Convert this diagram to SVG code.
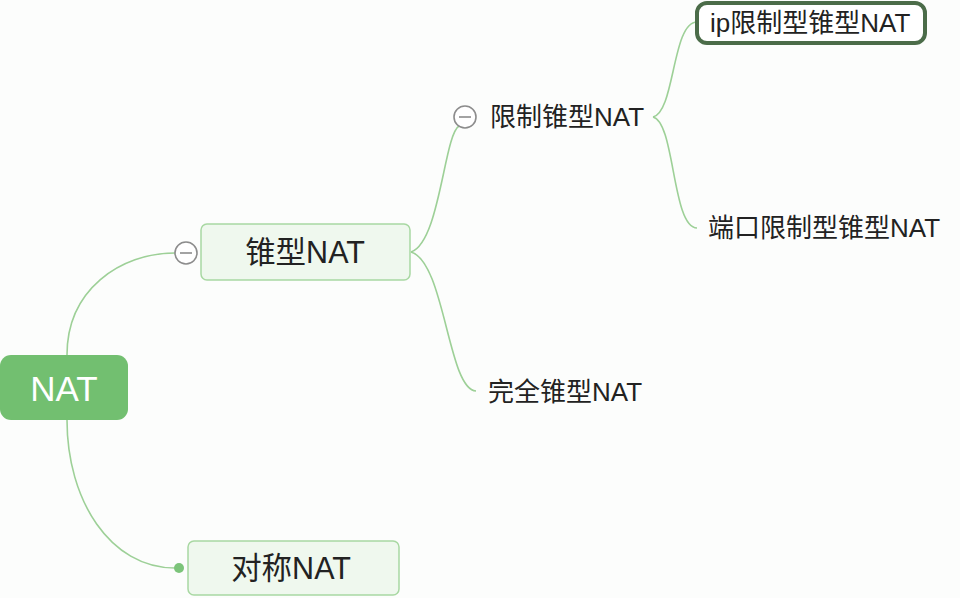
<svg xmlns="http://www.w3.org/2000/svg" width="960" height="598" viewBox="0 0 960 598">
<style>
.t{font-family:"Liberation Sans","Noto Sans CJK SC",sans-serif;fill:#222;}
.box{fill:#eff8ee;stroke:#a8d8a2;stroke-width:1.5;}
.c{fill:none;stroke:#9dd097;stroke-width:1.6;}
.tog{fill:#fff;stroke:#8c8c8c;stroke-width:1.6;}
</style>
<rect width="960" height="598" fill="#fcfdfc"/>
<g id="connectors">
<path class="c" d="M67,355 C67,290 120,253 175,253"/>
<path class="c" d="M67,420 C67,500 110,568 175,568"/>
<circle cx="179" cy="568" r="5" fill="#7cc47a"/>
<path class="c" d="M411,252 C440,242 444,135 459,126"/>
<path class="c" d="M411,252 C445,262 448,390 476,391"/>
<path class="c" d="M653,117 C675,112 672,22 697,22"/>
<path class="c" d="M653,117 C675,122 672,228 697,228"/>
</g>
<g id="node-root">
<rect x="0" y="355" width="128" height="65" rx="11" fill="#72bf70"/>
<text class="t" x="64" y="401" font-size="35" text-anchor="middle" style="fill:#fff">NAT</text>
</g>
<g id="node-cone">
<rect class="box" x="201" y="224" width="209" height="56" rx="6"/>
<text class="t" x="305" y="263" font-size="30.5" text-anchor="middle">锥型NAT</text>
<circle class="tog" cx="186" cy="253" r="11"/>
<line x1="180" y1="253" x2="192" y2="253" stroke="#8c8c8c" stroke-width="1.6"/>
</g>
<g id="node-symmetric">
<rect class="box" x="188" y="541" width="211" height="54" rx="6"/>
<text class="t" x="291" y="579" font-size="30.5" text-anchor="middle">对称NAT</text>
</g>
<g id="node-restricted">
<circle class="tog" cx="465" cy="117" r="11"/>
<line x1="459" y1="117" x2="471" y2="117" stroke="#8c8c8c" stroke-width="1.6"/>
<text class="t" x="490" y="126" font-size="26">限制锥型NAT</text>
</g>
<g id="node-full">
<text class="t" x="488" y="401" font-size="26">完全锥型NAT</text>
</g>
<g id="node-ip">
<rect x="697" y="3" width="228" height="40" rx="10" fill="#fff" stroke="#4b6c49" stroke-width="4"/>
<text class="t" x="710" y="32" font-size="26">ip限制型锥型NAT</text>
</g>
<g id="node-port">
<text class="t" x="708" y="237" font-size="26">端口限制型锥型NAT</text>
</g>
</svg>
